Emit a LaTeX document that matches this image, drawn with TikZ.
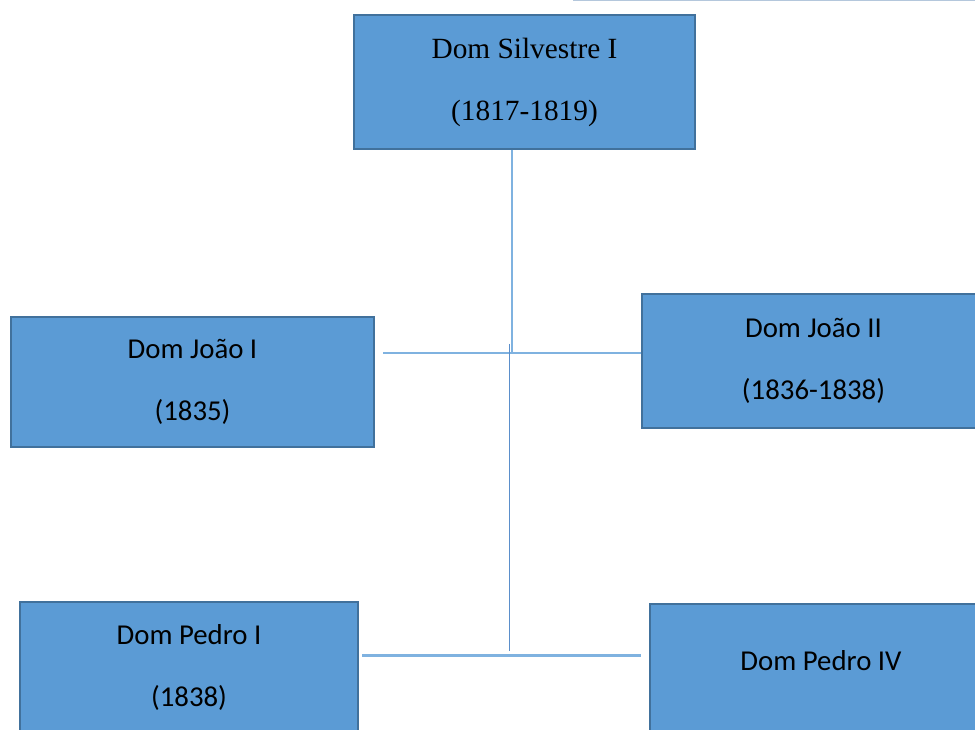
\documentclass[tikz,border=0pt]{standalone}
\usepackage{fontspec}
\setmainfont{Liberation Serif}
\newfontfamily\calibrifont{Carlito}
\definecolor{boxfill}{HTML}{5B9BD5}
\definecolor{boxedge}{HTML}{41719C}
\definecolor{linkblue}{HTML}{7FB2E0}
\definecolor{linkdark}{HTML}{5B8FCB}
\definecolor{topline}{HTML}{B4C7DC}
\begin{document}
\begin{tikzpicture}[x=0.75pt,y=-0.75pt,
  box/.style={draw=boxedge, line width=1.5pt, fill=boxfill, rectangle, inner sep=0pt,
    anchor=north west, align=center, text=black},
  serifbox/.style={box, font=\fontsize{22}{46.5}\selectfont},
  sansbox/.style={box, font=\calibrifont\fontsize{21.6}{47}\selectfont},
  link/.style={draw=linkblue, line width=1.5pt},
  linkd/.style={draw=linkdark, line width=1.4pt}]
\clip (0,0) rectangle (975,730);
\useasboundingbox (0,0) rectangle (975,730);
\fill[white] (0,0) rectangle (975,730);
% top thin line
\coordinate (tl1) at (573,0.5);
\coordinate (tl2) at (975,0.5);
\draw[topline, line width=1.2pt] (tl1) -- (tl2);
% boxes
\node[serifbox, minimum width=255.75pt, minimum height=100.5pt] (s) at (353,14) {Dom Silvestre I\\(1817-1819)};
\node[sansbox, minimum width=272.25pt, minimum height=97.5pt] (j1) at (10,316) {Dom João I\\(1835)};
\node[sansbox, minimum width=257.25pt, minimum height=100.5pt] (j2) at (641,293) {Dom João II\\(1836-1838)};
\node[sansbox, minimum width=253.5pt, minimum height=98.25pt] (p1) at (19,601) {Dom Pedro I\\(1838)};
\node[sansbox, minimum width=256.5pt, minimum height=132pt] (p4) at (649,603) {Dom Pedro IV\\\mbox{}};
% connectors
\coordinate (cj) at (512,353.5);
\coordinate (hl) at (383,353.5);
\draw[link] (s.south -| cj) -- (cj);
\draw[link] (hl) -- (hl -| j2.west);
\coordinate (v2t) at (509.5,344);
\coordinate (v2b) at (509.5,651);
\draw[linkd] (v2t) -- (v2b);
\coordinate (bl1) at (362,655.5);
\coordinate (bl2) at (641,655.5);
\draw[link] (bl1) -- (bl2);
\end{tikzpicture}
\end{document}
